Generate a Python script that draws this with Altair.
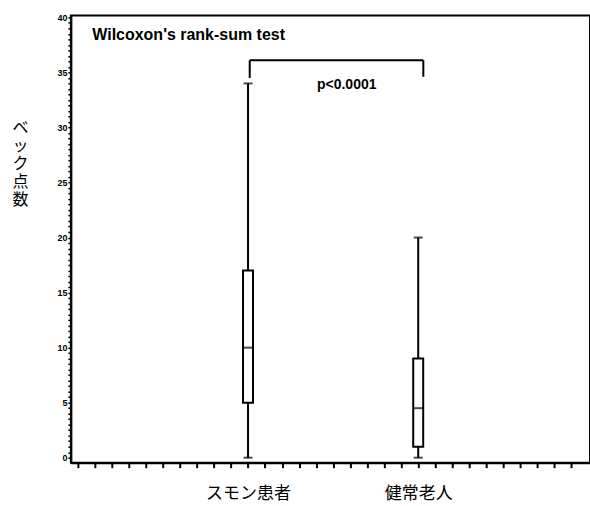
import altair as alt
import pandas as pd

# ---- data ----
groups = ["スモン患者", "健常老人"]
positions = [10, 20]
mins = [0, 0]
q1s = [5, 1]
medians = [10, 4.5]
q3s = [17, 9]
maxs = [34, 20]

# annotation: significance bracket
bracket_x = [10.1, 20.3]
bracket_top = 36.1
bracket_ends = [34.5, 34.6]
p_text = "p<0.0001"
p_pos = (15.8, 33.9)
test_text = "Wilcoxon's rank-sum test"
test_pos = (0.85, 38.4)

y_title = ["ベ", "ッ", "ク", "点", "数"]

df = pd.DataFrame({"group": groups, "pos": positions, "min": mins, "q1": q1s,
                   "median": medians, "q3": q3s, "max": maxs})

xdom = [-0.115, 29.8]
ydom = [-0.45, 40.18]

label_expr = " : ".join(
    [f"datum.value == {p} ? '{g}'" for p, g in zip(positions, groups)]) + " : ''"

xscale = alt.Scale(domain=xdom, nice=False, zero=False)
yscale = alt.Scale(domain=ydom, nice=False, zero=False)

xaxis = alt.Axis(values=list(range(0, 30)), tickCount=200, labelExpr=label_expr, title=None,
                 grid=False, tickSize=5, tickWidth=2, tickColor="black",
                 domainColor="black", domainWidth=2, labelFont="Noto Sans CJK JP",
                 labelFontSize=17, labelColor="black", labelPadding=18,
                 labelFlush=False, labelOverlap=False)
yaxis = alt.Axis(values=[i * 0.5 for i in range(0, 81)], tickCount=200,
                 labelExpr="datum.value % 5 == 0 ? datum.value : ''",
                 title=y_title, titleAngle=0, titleX=-51, titleY=104,
                 titleAlign="center", titleBaseline="top", titleLineHeight=18,
                 titleFont="Noto Sans CJK JP", titleFontSize=16,
                 titleFontWeight="normal", titleColor="black",
                 grid=False, tickSize=3, tickWidth=1.5, tickColor="black",
                 domainColor="black", domainWidth=2, labelFont="Liberation Sans",
                 labelFontSize=9, labelFontWeight="bold", labelColor="black",
                 labelPadding=1, labelOverlap=False, labelFlush=False)

base = alt.Chart(df)

whisker = base.mark_rule(color="black", strokeWidth=2).encode(
    x=alt.X("pos:Q", scale=xscale, axis=xaxis),
    y=alt.Y("min:Q", scale=yscale, axis=yaxis),
    y2="max:Q",
)
cap_lo = base.mark_tick(color="black", orient="horizontal", size=9, thickness=2).encode(
    x="pos:Q", y="min:Q")
cap_hi = base.mark_tick(color="black", orient="horizontal", size=9, thickness=2).encode(
    x="pos:Q", y="max:Q")
box = base.mark_bar(size=10, fill="white", stroke="black", strokeWidth=2).encode(
    x="pos:Q", y="q1:Q", y2="q3:Q")
med = base.mark_tick(color="black", orient="horizontal", size=10, thickness=2).encode(
    x="pos:Q", y="median:Q")

br_df = pd.DataFrame({"x": [bracket_x[0]], "x2": [bracket_x[1]], "y": [bracket_top]})
br_h = alt.Chart(br_df).mark_rule(color="black", strokeWidth=2).encode(
    x="x:Q", x2="x2:Q", y="y:Q")
brv_df = pd.DataFrame({"x": bracket_x, "y": [bracket_top, bracket_top], "y2": bracket_ends})
br_v = alt.Chart(brv_df).mark_rule(color="black", strokeWidth=2).encode(
    x="x:Q", y="y:Q", y2="y2:Q")

p_df = pd.DataFrame({"x": [p_pos[0]], "y": [p_pos[1]], "t": [p_text]})
p_lab = alt.Chart(p_df).mark_text(font="Liberation Sans", fontSize=14, fontWeight="bold",
                                   color="black", align="center", baseline="middle").encode(
    x="x:Q", y="y:Q", text="t:N")

t_df = pd.DataFrame({"x": [test_pos[0]], "y": [test_pos[1]], "t": [test_text]})
t_lab = alt.Chart(t_df).mark_text(font="Liberation Sans", fontSize=16, fontWeight="bold",
                                   color="black", align="left", baseline="middle").encode(
    x="x:Q", y="y:Q", text="t:N")

chart = alt.layer(whisker, cap_lo, cap_hi, box, med, br_h, br_v, p_lab, t_lab).properties(
    width=520, height=448,
    autosize=alt.AutoSizeParams(type="none"),
    padding={"left": 71, "top": 15, "right": 0, "bottom": 43},
    background="white",
).configure_view(stroke="black", strokeWidth=2)

chart.save("out.html", embed_options={"renderer": "svg", "actions": False})
